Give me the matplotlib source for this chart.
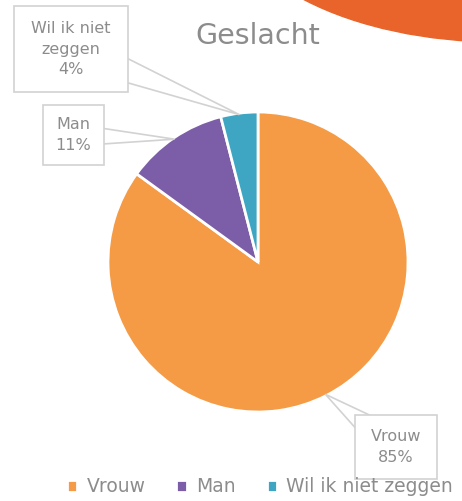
import numpy as np
import matplotlib.pyplot as plt
from matplotlib.patches import Ellipse, Polygon, Rectangle

plt.rcParams['font.family'] = ['DejaVu Sans']

labels = ['Vrouw', 'Man', 'Wil ik niet zeggen']
box_labels = ['Vrouw\n85%', 'Man\n11%', 'Wil ik niet\nzeggen\n4%']
shares = [85, 11, 4]
colors = ['#F59A45', '#7B5EA7', '#3EA6C2']
grey = '#8c8c8c'

W, H = 462, 501
fig = plt.figure(figsize=(W / 100, H / 100), dpi=100)
ax = fig.add_axes([0, 0, 1, 1])

# pie geometry in pixel units (y measured upward)
cx, cy, r = 258, H - 262, 150
wedges, _ = ax.pie(shares, colors=colors, startangle=90, counterclock=False,
                   center=(cx, cy), radius=r, frame=True,
                   wedgeprops=dict(edgecolor='white', linewidth=2))

ax.set_xlim(0, W)
ax.set_ylim(0, H)
ax.set_aspect('equal')
ax.axis('off')

# decorative orange blob in the corner
ax.add_patch(Ellipse((500, H + 100), 550, 284, color='#E9642A', zorder=0))

ax.text(cx, H - 36, 'Geslacht', ha='center', va='center', fontsize=20.5,
        color=grey)

# callout boxes: centre, size, pointer half width (pixels)
box_pos = [(396, H - 447), (73.5, H - 135), (71, H - 49)]
box_size = [(82, 64), (61, 60), (114, 86)]
half_w = [18, 11, 17]
angles = np.cumsum([0] + shares)
for lab, pos, size, hw, a0, a1 in zip(box_labels, box_pos, box_size, half_w,
                                      angles[:-1], angles[1:]):
    mid = np.deg2rad(90 - (a0 + a1) / 2 * 3.6)
    tip = (cx + 0.99 * r * np.cos(mid), cy + 0.99 * r * np.sin(mid))
    d = np.array(tip) - np.array(pos)
    n = np.array([-d[1], d[0]]) / np.hypot(*d) * hw
    ax.add_patch(Polygon([np.array(pos) + n, tip, np.array(pos) - n],
                         closed=True, facecolor='white', edgecolor='#d2d2d2',
                         linewidth=1.2, zorder=3))
    ax.add_patch(Rectangle((pos[0] - size[0] / 2, pos[1] - size[1] / 2),
                           size[0], size[1], facecolor='white',
                           edgecolor='#d2d2d2', linewidth=1.2, zorder=4))
    ax.text(pos[0], pos[1], lab, ha='center', va='center', fontsize=11.5,
            color=grey, linespacing=1.45, zorder=5)

fig.legend(wedges, labels, loc='center', bbox_to_anchor=(260 / W, 1 - 487 / H),
           ncol=3, frameon=False, fontsize=13.5, handlelength=0.55,
           handleheight=0.6, handletextpad=0.5, columnspacing=1.65,
           labelcolor=grey, borderpad=0)

fig.savefig('out.png', dpi=100)
